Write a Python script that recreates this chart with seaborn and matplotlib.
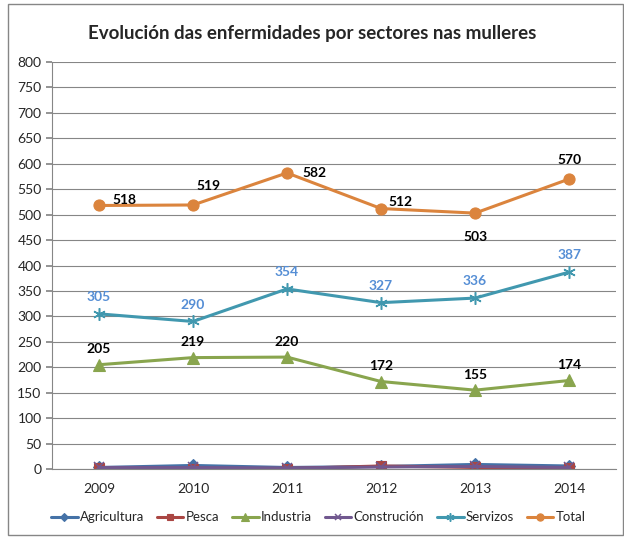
import matplotlib
matplotlib.use("Agg")
import matplotlib.pyplot as plt
import seaborn as sns
import pandas as pd
import numpy as np

years = [2009, 2010, 2011, 2012, 2013, 2014]
agricultura = [3, 7, 3, 5, 9, 6]
pesca = [2, 1, 1, 6, 3, 2]
industria = [205, 219, 220, 172, 155, 174]
construcion = [3, 3, 2, 4, 5, 3]
servizos = [305, 290, 354, 327, 336, 387]
total = [518, 519, 582, 512, 503, 570]

series = {
    "Agricultura": agricultura,
    "Pesca": pesca,
    "Industria": industria,
    "Construción": construcion,
    "Servizos": servizos,
    "Total": total,
}
colors = {
    "Agricultura": "#4572A7",
    "Pesca": "#AA4643",
    "Industria": "#89A54E",
    "Construción": "#71588F",
    "Servizos": "#4198AF",
    "Total": "#DB843D",
}
markers = {
    "Agricultura": "D",
    "Pesca": "s",
    "Industria": "^",
    "Construción": "x",
    "Servizos": (6, 2, 0),
    "Total": "o",
}
msizes = {"Agricultura": 6, "Pesca": 7, "Industria": 8, "Construción": 7, "Servizos": 9, "Total": 8}

rows = []
for name, vals in series.items():
    for y, v in zip(years, vals):
        rows.append({"year": y, "value": v, "sector": name})
df = pd.DataFrame(rows)

sns.set_theme(style="white")
plt.rcParams["font.family"] = ["Lato", "DejaVu Sans"]

fig = plt.figure(figsize=(6.24, 5.37), dpi=100)
ax = fig.add_axes([0.0833, 0.1266, 0.904, 0.7579])

for name in series:
    sub = df[df.sector == name]
    sns.lineplot(data=sub, x="year", y="value", ax=ax, color=colors[name],
                 linewidth=2.2, marker=markers[name], markersize=msizes[name],
                 markeredgecolor=colors[name],
                 markeredgewidth=1.1 if name in ("Construción", "Servizos") else 0.8,
                 label=name)

ax.set_xlim(2008.5, 2014.5)
ax.set_ylim(0, 800)
ax.set_yticks(np.arange(0, 801, 50))
ax.set_xticks(years)
ax.set_xticks(np.arange(2008.5, 2014.6, 1), minor=True)
ax.tick_params(axis="x", which="major", length=0, labelsize=10, pad=10)
ax.tick_params(axis="x", which="minor", length=5, color="#868686", direction="out")
ax.tick_params(axis="y", labelsize=10, length=4, color="#868686", direction="out", left=True)
ax.grid(axis="y", color="#868686", linewidth=0.8)
ax.set_axisbelow(True)
for s in ["top", "right"]:
    ax.spines[s].set_visible(False)
for s in ["left", "bottom"]:
    ax.spines[s].set_color("#868686")
    ax.spines[s].set_linewidth(0.8)
ax.set_xlabel("")
ax.set_ylabel("")

# data labels
total_offsets = [(18, 4), (11, 14), (20, 0), (14, 5), (0, -17), (0, 14)]
for y, v, off in zip(years, total, total_offsets):
    ax.annotate(str(v), (y, v), xytext=off, textcoords="offset points",
                ha="center", va="center", fontsize=10, fontweight="bold", color="black")
for y, v in zip(years, servizos):
    ax.annotate(str(v), (y, v), xytext=(0, 12), textcoords="offset points",
                ha="center", va="center", fontsize=10, fontweight="bold", color="#558ED5")
for y, v in zip(years, industria):
    ax.annotate(str(v), (y, v), xytext=(0, 11), textcoords="offset points",
                ha="center", va="center", fontsize=10, fontweight="bold", color="black")

ax.legend_.remove()
handles, labels = ax.get_legend_handles_labels()
fig.legend(handles, labels, loc="center", bbox_to_anchor=(0.51, 0.037), ncol=6,
           frameon=False, fontsize=9.5, handlelength=2.0, handletextpad=0.15,
           columnspacing=1.0, markerscale=0.65, borderpad=0.2)

fig.text(0.5, 0.937, "Evolución das enfermidades por sectores nas mulleres",
         ha="center", va="center", fontsize=13.5, fontweight="bold")

border = plt.Rectangle((0.013, 0.003), 0.985, 0.99, transform=fig.transFigure,
                       fill=False, edgecolor="#868686", linewidth=1)
fig.patches.append(border)

fig.savefig("out.png", dpi=100)
